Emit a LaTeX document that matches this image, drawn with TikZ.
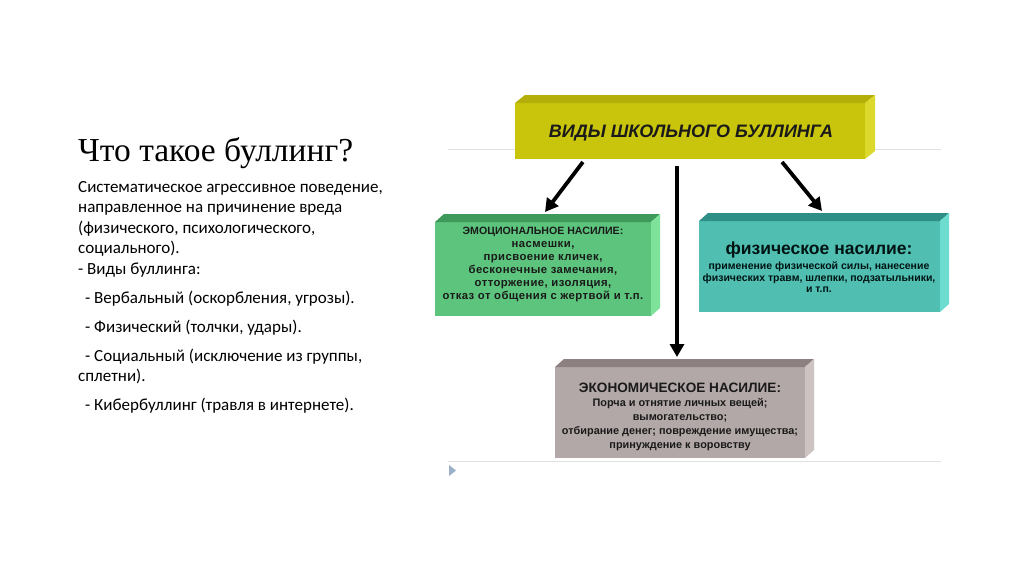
\documentclass[tikz,border=0pt]{standalone}
\usepackage{fontspec}
\setmainfont{Liberation Serif}
\newfontfamily\bodyf{Carlito}
\newfontfamily\arialf{Liberation Sans}
\newfontfamily\arialw{Liberation Sans}[LetterSpace=4]
\usetikzlibrary{arrows.meta,calc}
\definecolor{yfront}{HTML}{C9C40C}
\definecolor{ytop}{HTML}{B3AE08}
\definecolor{yside}{HTML}{DCD82C}
\definecolor{gfront}{HTML}{5CC47C}
\definecolor{gtop}{HTML}{3D9A5B}
\definecolor{gside}{HTML}{7EE29A}
\definecolor{tfront}{HTML}{50BFB2}
\definecolor{ttop}{HTML}{2F8F86}
\definecolor{tside}{HTML}{6CDCD0}
\definecolor{efront}{HTML}{B3A8A8}
\definecolor{etop}{HTML}{8C8080}
\definecolor{eside}{HTML}{CEC3C3}
\definecolor{boxtxt}{HTML}{1A1A1A}
\definecolor{marker}{HTML}{9AB0C8}
\newcommand\slabbox[9]{%
  \node[face,fill=#6,minimum width=#4pt,minimum height=#5pt] (#1) at (#2,#3) {};
  \fill[#7] (#1.north west) -- ++(#9,-8) -- ($(#1.north east)+(#9,-8)$) -- (#1.north east) -- cycle;
  \fill[#8] (#1.north east) -- ++(#9,-8) -- ($(#1.south east)+(#9,-8)$) -- (#1.south east) -- cycle;
}
\begin{document}
\begin{tikzpicture}[x=1pt,y=-1pt,
  face/.style={draw=none,inner sep=0pt,outer sep=0pt,anchor=north west},
  arr/.style={line width=3.8pt,-{Triangle[length=13pt,width=14pt]}},
  body/.style={anchor=base west,inner sep=0pt,font=\bodyf\fontsize{17}{20}\selectfont},
  boxt/.style={align=center,inner sep=0pt,text=boxtxt},
  rule/.style={draw=black!12,line width=0.8pt}]
\useasboundingbox (0,0) rectangle (1024,574);
\fill[white] (0,0) rectangle (1024,574);

% left text
\node[anchor=base west,inner sep=0pt,font=\fontsize{33.5}{38}\selectfont] (title) at (78,161) {Что такое буллинг?};
\node[body] (l1) at (78,192) {Систематическое агрессивное поведение,};
\node[body] (l2) at (78,212.5) {направленное на причинение вреда};
\node[body] (l3) at (78,233) {(физического, психологического,};
\node[body] (l4) at (78,253.5) {социального).};
\node[body] (l5) at (78,274) {- Виды буллинга:};
\node[body] (l6) at (85,303) {- Вербальный (оскорбления, угрозы).};
\node[body] (l7) at (85,332) {- Физический (толчки, удары).};
\node[body] (l8) at (85,361) {- Социальный (исключение из группы,};
\node[body] (l9) at (78,381) {сплетни).};
\node[body] (l10) at (85,410) {- Кибербуллинг (травля в интернете).};

% rules
\draw[rule] (448,149) coordinate (r1a) -- (941,149) coordinate (r1b);
\draw[rule] (448,461) coordinate (r2a) -- (941,461) coordinate (r2b);
\fill[marker] (449,465) coordinate (m1) -- (456,470.5) -- (449,476) -- cycle;

% boxes
\slabbox{top}{515}{103}{350}{56}{yfront}{ytop}{yside}{10}
\slabbox{emo}{435}{222}{216}{94}{gfront}{gtop}{gside}{9}
\slabbox{phys}{699}{221}{241}{91}{tfront}{ttop}{tside}{9}
\slabbox{eco}{555}{367}{250}{91}{efront}{etop}{eside}{9}

\node[boxt,font=\arialf\bfseries\itshape\fontsize{18}{20}\selectfont] (toptxt) at (691,133) {ВИДЫ ШКОЛЬНОГО БУЛЛИНГА};

\node[boxt,font=\arialw\bfseries\fontsize{11.3}{13}\selectfont] (emotxt) at (543,264)
 {{\arialf\fontsize{10.6}{13}\selectfont ЭМОЦИОНАЛЬНОЕ НАСИЛИЕ:}\\насмешки,\\присвоение кличек,\\бесконечные замечания,\\отторжение, изоляция,\\отказ от общения с жертвой и т.п.};

\node[boxt,font=\arialf\bfseries\fontsize{10.5}{11.2}\selectfont,text=black!85!teal] (phystxt) at (819,267)
 {{\fontsize{17.5}{19}\selectfont физическое насилие:}\\[3pt]применение физической силы, нанесение\\физических травм, шлепки, подзатыльники,\\и т.п.};

\node[boxt,font=\arialf\bfseries\fontsize{10.9}{14}\selectfont] (ecotxt) at (680,416.5)
 {{\fontsize{13.6}{15}\selectfont ЭКОНОМИЧЕСКОЕ НАСИЛИЕ:}\\Порча и отнятие личных вещей;\\вымогательство;\\отбирание денег; повреждение имущества;\\принуждение к воровству};

% arrows
\draw[arr] ($(top.south west)!0.194!(top.south east)+(0,3)$) -- ($(emo.north)+(2,-10)$);
\draw[arr] ($(top.south west)!0.763!(top.south east)+(0,3)$) -- ($(phys.north)+(2.5,-10)$);
\draw[arr] ($(top.south west)!0.463!(top.south east)+(0,7)$) -- ($(eco.north)+(-3,-10)$);
\end{tikzpicture}
\end{document}
